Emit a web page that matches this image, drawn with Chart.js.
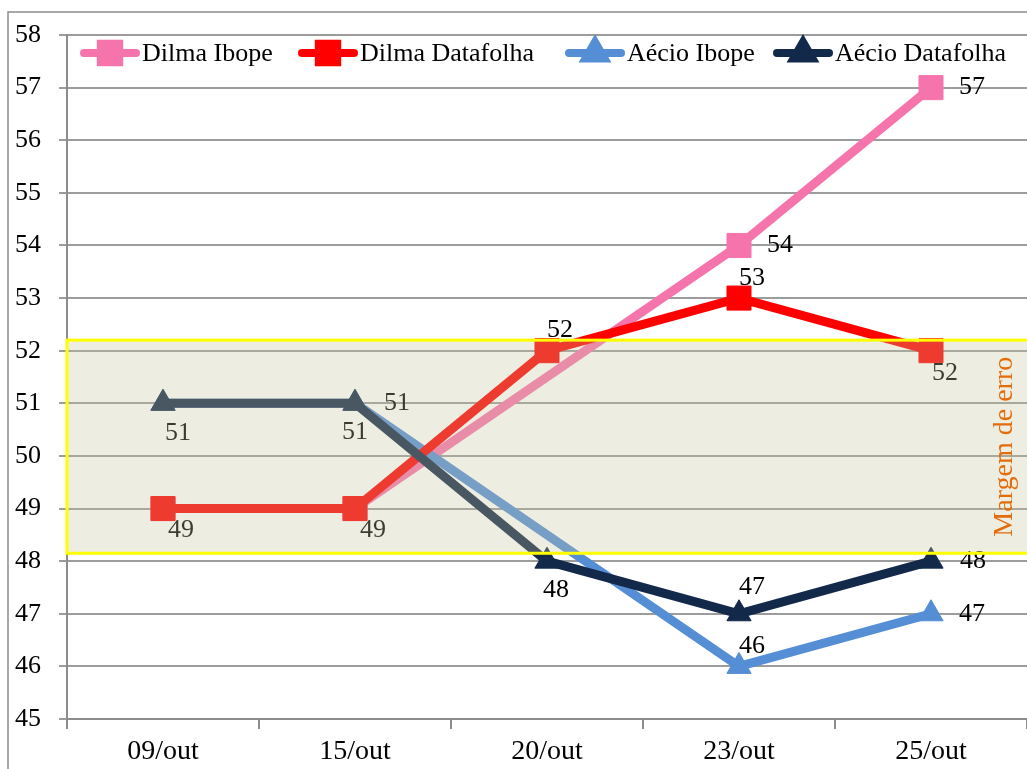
<!DOCTYPE html>
<html>
<head>
<meta charset="utf-8">
<script src="https://cdn.jsdelivr.net/npm/chart.js@4.4.0/dist/chart.umd.min.js"></script>
<style>
  html, body { margin: 0; padding: 0; background: #fff; }
  #wrap { width: 1027px; height: 769px; }
</style>
</head>
<body>
<div id="wrap"><canvas id="poll" width="1027" height="769"></canvas></div>
<script>
// data (Ibope had no poll on 20/out)
const categories = ['09/out', '15/out', '20/out', '23/out', '25/out'];
const dilmaIbope = [49, 49, null, 54, 57];
const dilmaDatafolha = [49, 49, 52, 53, 52];
const aecioIbope = [51, 51, null, 46, 47];
const aecioDatafolha = [51, 51, 48, 47, 48];
const yMin = 45, yMax = 58;
const marginBand = [48.15, 52.2];
const bandLabel = 'Margem de erro';

const serif = '"Liberation Serif", "DejaVu Serif", serif';

// where each value label sits, relative to its point (null = no label)
const labelOffsets = [
  [null, null, null, [41, 0], [41, 0]],
  [[18, 22], [18, 22], [13, -21], [13, -20], [14, 22]],
  [null, [42, 0], null, [13, -20], [41, 0]],
  [[15, 30], [0, 29], [9, 29], [13, -27], [42, 0]]
];

function series(label, data, color, style, radius, order) {
  return {
    label: label, data: data,
    borderColor: color, backgroundColor: color,
    pointBackgroundColor: color, pointBorderColor: color,
    borderWidth: 9, pointStyle: style, pointRadius: radius, pointHoverRadius: radius,
    pointBorderWidth: 1, tension: 0, spanGaps: true, order: order
  };
}

const datasets = [
  series('Dilma Ibope', dilmaIbope, '#F674AC', 'rect', 17, 4),
  series('Dilma Datafolha', dilmaDatafolha, '#FF0000', 'rect', 17, 2),
  series('Aécio Ibope', aecioIbope, '#558ED5', 'triangle', 14, 3),
  series('Aécio Datafolha', aecioDatafolha, '#13294A', 'triangle', 14, 1)
];

const decor = {
  id: 'decor',
  beforeDraw(chart) {
    const ctx = chart.ctx;
    ctx.save();
    ctx.strokeStyle = '#8c8c8c';
    ctx.lineWidth = 1.5;
    ctx.beginPath();
    ctx.moveTo(8, 769);
    ctx.lineTo(8, 12);
    ctx.lineTo(1027, 12);
    ctx.stroke();
    ctx.restore();
  },
  afterDatasetsDraw(chart) {
    const ctx = chart.ctx;
    const area = chart.chartArea;
    const y = chart.scales.y;
    // value labels
    ctx.save();
    ctx.font = '26px ' + serif;
    ctx.fillStyle = '#000';
    ctx.textAlign = 'center';
    ctx.textBaseline = 'middle';
    chart.data.datasets.forEach((ds, i) => {
      const meta = chart.getDatasetMeta(i);
      meta.data.forEach((pt, j) => {
        const off = labelOffsets[i][j];
        if (!off || ds.data[j] == null) return;
        ctx.fillText(String(ds.data[j]), pt.x + off[0], pt.y + off[1]);
      });
    });
    // margin of error band over the lines
    const top = y.getPixelForValue(marginBand[1]);
    const bot = y.getPixelForValue(marginBand[0]);
    ctx.fillStyle = 'rgba(200,195,160,0.3)';
    ctx.fillRect(area.left, top, area.right - area.left, bot - top);
    ctx.strokeStyle = '#FFFF00';
    ctx.lineWidth = 3;
    ctx.strokeRect(area.left, top, area.right - area.left + 4, bot - top);
    // band caption
    ctx.translate(1005, (top + bot) / 2);
    ctx.rotate(-Math.PI / 2);
    ctx.fillStyle = '#E46C0A';
    ctx.font = '28px ' + serif;
    ctx.fillText(bandLabel, 0, 0);
    ctx.restore();
  },
  afterDraw(chart) {
    // legend: line with marker, then name
    const ctx = chart.ctx;
    const starts = [80, 298, 565, 773];
    const ly = 53;
    ctx.save();
    ctx.font = '26px ' + serif;
    ctx.textBaseline = 'middle';
    chart.data.datasets.forEach((ds, i) => {
      const x0 = starts[i];
      ctx.strokeStyle = ds.borderColor;
      ctx.lineWidth = 8;
      ctx.lineCap = 'round';
      ctx.beginPath();
      ctx.moveTo(x0 + 4, ly);
      ctx.lineTo(x0 + 56, ly);
      ctx.stroke();
      Chart.helpers.drawPoint(ctx, {
        pointStyle: ds.pointStyle, radius: ds.pointStyle === 'rect' ? 13 : 11,
        borderWidth: 1, rotation: 0
      }, x0 + 30, ly);
      ctx.fillStyle = ds.borderColor;
      ctx.fill();
      ctx.fillStyle = '#000';
      ctx.fillText(ds.label, x0 + 62, ly + 1);
    });
    ctx.restore();
  }
};

const chart = new Chart(document.getElementById('poll').getContext('2d'), {
  type: 'line',
  data: { labels: categories, datasets: datasets },
  options: {
    responsive: false,
    animation: false,
    layout: { autoPadding: false, padding: { top: 35, right: 0, bottom: 0, left: 0 } },
    plugins: { legend: { display: false }, tooltip: { enabled: false } },
    scales: {
      x: {
        offset: true,
        grid: { offset: true, drawOnChartArea: false, tickLength: 10, color: '#8c8c8c', lineWidth: 2 },
        border: { color: '#8c8c8c', width: 2 },
        ticks: { color: '#000', font: { family: serif, size: 28 }, padding: 6 },
        afterFit(s) { s.height = 50; }
      },
      y: {
        min: yMin, max: yMax,
        grid: { color: '#9c9c9c', lineWidth: 2, tickLength: 8 },
        border: { color: '#8c8c8c', width: 2 },
        ticks: { stepSize: 1, color: '#000', font: { family: serif, size: 26 }, padding: 18 },
        afterFit(s) { s.width = 67; }
      }
    }
  },
  plugins: [decor]
});
</script>
</body>
</html>
